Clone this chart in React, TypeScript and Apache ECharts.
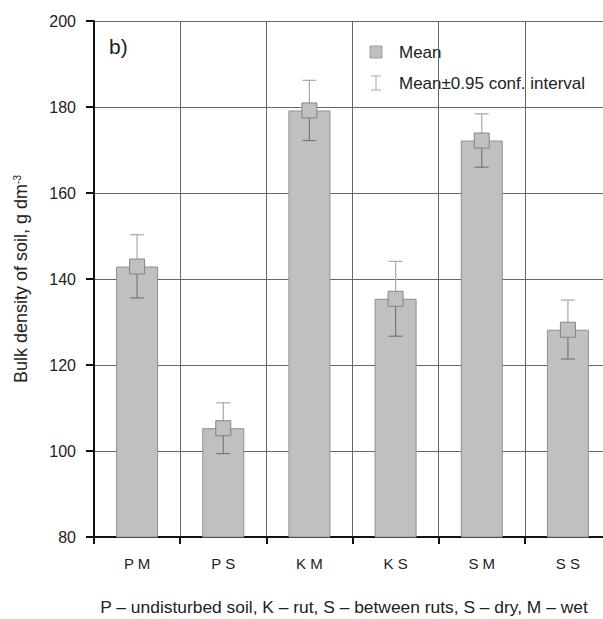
import React, { useEffect, useRef } from "react";
import * as echarts from "echarts";

const categories = ["P M", "P S", "K M", "K S", "S M", "S S"];
const means = [142.9, 105.3, 179.2, 135.4, 172.2, 128.2];
const lower = [135.6, 99.4, 172.2, 126.7, 166.0, 121.4];
const upper = [150.3, 111.2, 186.2, 144.1, 178.4, 135.1];
const yTicks = { min: 80, max: 200, interval: 20 };
const footnote = "P \u2013 undisturbed soil, K \u2013 rut, S \u2013 between ruts, S \u2013 dry, M \u2013 wet";

const FONT = "Liberation Sans, Arial, sans-serif";

export default function App() {
  const ref = useRef<HTMLDivElement>(null);
  useEffect(() => {
    if (!ref.current) return;
    const chart = echarts.init(ref.current, null, { renderer: "svg" });
    const errData = categories.map((_, i) => [i, means[i], lower[i], upper[i]]);
    chart.setOption({
      animation: false,
      textStyle: { fontFamily: FONT },
      grid: { left: 94, top: 21, width: 517, height: 516, containLabel: false, outerBoundsMode: "none" },
      xAxis: {
        type: "category",
        data: categories,
        boundaryGap: true,
        axisLine: { show: true, lineStyle: { color: "#111", width: 2 } },
        axisTick: { show: true, length: 7, alignWithLabel: false, interval: 0, lineStyle: { color: "#111", width: 2 } },
        axisLabel: { margin: 19, fontSize: 15, color: "#222", fontFamily: FONT, interval: 0 },
        splitLine: { show: true, interval: 0, lineStyle: { color: "#666", width: 1 } },
      },
      yAxis: {
        type: "value",
        min: yTicks.min,
        max: yTicks.max,
        interval: yTicks.interval,
        axisLine: { show: true, lineStyle: { color: "#111", width: 2 } },
        axisTick: { show: true, length: 8, inside: false, lineStyle: { color: "#111", width: 2 } },
        axisLabel: { margin: 18, fontSize: 16, color: "#222", fontFamily: FONT },
        splitLine: { show: true, lineStyle: { color: "#666", width: 1 } },
        name: "{a|Bulk density of soil, g dm}{sup|-3}",
        nameLocation: "middle",
        nameGap: 64,
        nameTextStyle: {
          rich: {
            a: { fontSize: 18, color: "#222", fontFamily: FONT },
            sup: { fontSize: 10, color: "#222", fontFamily: FONT, verticalAlign: "top", padding: [0, 0, 8, 0] },
          },
        },
      },
      series: [
        {
          name: "Mean",
          type: "bar",
          data: means,
          barWidth: 42,
          itemStyle: { color: "#c0c0c0", borderColor: "#909090", borderWidth: 1 },
          z: 2,
        },
        {
          name: "Mean\u00b10.95 conf. interval",
          type: "custom",
          data: errData,
          z: 3,
          renderItem: (params: any, api: any) => {
            const i = api.value(0);
            const m = api.coord([i, api.value(1)]);
            const lo = api.coord([i, api.value(2)]);
            const hi = api.coord([i, api.value(3)]);
            const x = m[0];
            const cap = 7;
            return {
              type: "group",
              children: [
                { type: "line", shape: { x1: x, y1: hi[1], x2: x, y2: m[1] }, style: { stroke: "#a8a8a8", lineWidth: 1.2 } },
                { type: "line", shape: { x1: x - cap, y1: hi[1], x2: x + cap, y2: hi[1] }, style: { stroke: "#a8a8a8", lineWidth: 1.2 } },
                { type: "line", shape: { x1: x, y1: m[1], x2: x, y2: lo[1] }, style: { stroke: "#777", lineWidth: 1.2 } },
                { type: "line", shape: { x1: x - cap, y1: lo[1], x2: x + cap, y2: lo[1] }, style: { stroke: "#777", lineWidth: 1.2 } },
              ],
            };
          },
        },
        {
          name: "Mean",
          type: "scatter",
          data: means.map((v, i) => [i, v]),
          symbol: "rect",
          symbolSize: 15,
          itemStyle: { color: "#c0c0c0", borderColor: "#858585", borderWidth: 1, opacity: 1 },
          z: 4,
        },
      ],
      graphic: [
        { type: "text", left: 109, top: 36, style: { text: "b)", fontSize: 21, fill: "#222", fontFamily: FONT } },
        { type: "rect", shape: { x: 370, y: 46, width: 12, height: 12 }, style: { fill: "#c0c0c0", stroke: "#a0a0a0", lineWidth: 1 } },
        { type: "text", x: 399, y: 52, style: { text: "Mean", fontSize: 17, fill: "#222", fontFamily: FONT, verticalAlign: "middle" } },
        { type: "line", shape: { x1: 376, y1: 76, x2: 376, y2: 90 }, style: { stroke: "#a8a8a8", lineWidth: 1 } },
        { type: "line", shape: { x1: 371, y1: 76, x2: 381, y2: 76 }, style: { stroke: "#a8a8a8", lineWidth: 1 } },
        { type: "line", shape: { x1: 371, y1: 90, x2: 381, y2: 90 }, style: { stroke: "#a8a8a8", lineWidth: 1 } },
        { type: "text", x: 399, y: 83, style: { text: "Mean\u00b10.95 conf. interval", fontSize: 17, fill: "#222", fontFamily: FONT, verticalAlign: "middle" } },
        { type: "text", x: 344, y: 607, style: { text: footnote, fontSize: 17.4, fill: "#222", fontFamily: FONT, align: "center", verticalAlign: "middle" } },
      ],
    });
    return () => chart.dispose();
  }, []);
  return <div ref={ref} style={{ position: "absolute", left: 0, top: 0, width: 603, height: 619 }} />;
}
